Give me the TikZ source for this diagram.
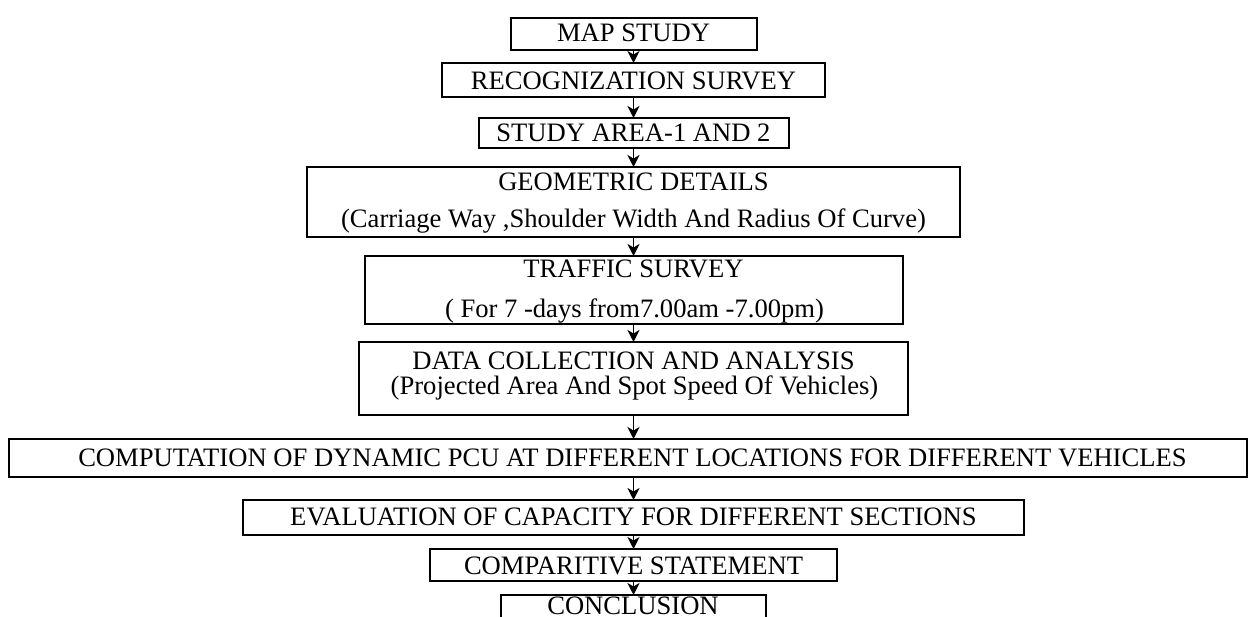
\documentclass[tikz,border=0pt]{standalone}
\usepackage{fontspec}
\setmainfont{Liberation Serif}
\usetikzlibrary{arrows.meta}
\tikzset{
  box/.style={draw=black, line width=2pt, rectangle, inner sep=0pt, outer sep=0pt},
  lbl/.style={anchor=base, inner sep=0pt, outer sep=0pt, font=\fontsize{26.6pt}{30pt}\selectfont},
  flow/.style={line width=1.4pt, -{Stealth[length=12pt,width=12pt,inset=3.5pt]}},
}
\begin{document}
\begin{tikzpicture}[x=1pt,y=-1pt]
\useasboundingbox (0,0) rectangle (1248,617);
\clip (0,0) rectangle (1248,617);
% boxes
\node[box, minimum width=246pt, minimum height=32pt] (map) at (633.5,34) {};
\node[box, minimum width=383pt, minimum height=34pt] (recog) at (633.5,80) {};
\node[box, minimum width=310pt, minimum height=30pt] (study) at (633.5,133) {};
\node[box, minimum width=653pt, minimum height=70pt] (geom) at (633.5,202) {};
\node[box, minimum width=538pt, minimum height=68pt] (traffic) at (633.5,290) {};
\node[box, minimum width=549pt, minimum height=73pt] (data) at (633.5,378.5) {};
\node[box, minimum width=1237.5pt, minimum height=38pt] (comp) at (627.75,458) {};
\node[box, minimum width=781pt, minimum height=35pt] (eval) at (633.5,517.5) {};
\node[box, minimum width=407pt, minimum height=32pt] (compar) at (633.5,565) {};
\node[box, minimum width=265pt, minimum height=50pt] (concl) at (633.5,620) {};
% texts
\node[lbl] (mapT) at (633.5,42) {MAP STUDY};
\node[lbl] (recogT) at (633.5,89.5) {RECOGNIZATION SURVEY};
\node[lbl] (studyT) at (633.5,141.5) {STUDY AREA-1 AND 2};
\node[lbl] (geomT1) at (633.5,191) {GEOMETRIC DETAILS};
\node[lbl] (geomT2) at (633.5,228) {(Carriage Way ,Shoulder Width And Radius Of Curve)};
\node[lbl] (trafficT1) at (633.5,278) {TRAFFIC SURVEY};
\node[lbl] (trafficT2) at (634.5,318) {( For 7 -days from7.00am -7.00pm)};
\node[lbl] (dataT1) at (633.5,370) {DATA COLLECTION AND ANALYSIS};
\node[lbl] (dataT2) at (634.5,395) {(Projected Area And Spot Speed Of Vehicles)};
\node[lbl] (compT) at (632.5,467) {COMPUTATION OF DYNAMIC PCU AT DIFFERENT LOCATIONS FOR DIFFERENT VEHICLES};
\node[lbl] (evalT) at (633.5,525) {EVALUATION OF CAPACITY FOR DIFFERENT SECTIONS};
\node[lbl] (comparT) at (633.5,574) {COMPARITIVE STATEMENT};
\node[lbl] (conclT) at (633,614) {CONCLUSION};
% connectors
\draw[flow] (map.south) -- (map.south |- recog.north);
\draw[flow] (recog.south) -- (recog.south |- study.north);
\draw[flow] (study.south) -- (study.south |- geom.north);
\draw[flow] (geom.south) -- (geom.south |- traffic.north);
\draw[flow] (traffic.south) -- (traffic.south |- data.north);
\draw[flow] (data.south) -- (data.south |- comp.north);
\draw[flow] (data.south |- comp.south) -- (eval.north);
\draw[flow] (eval.south) -- (compar.north);
\draw[flow] (compar.south) -- (concl.north);
\end{tikzpicture}
\end{document}
